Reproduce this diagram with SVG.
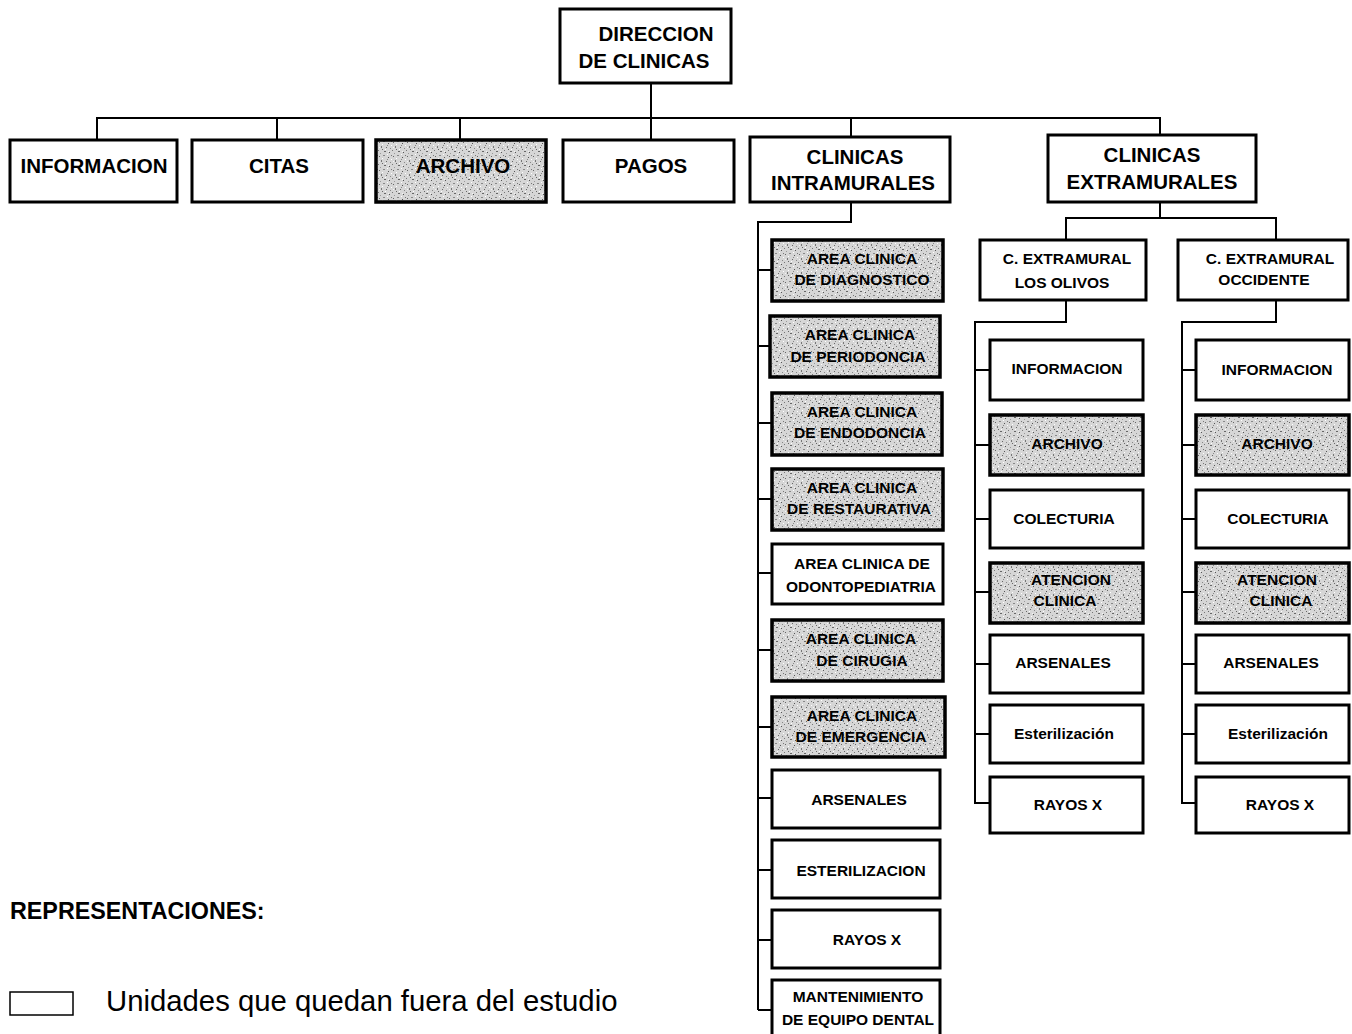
<svg xmlns="http://www.w3.org/2000/svg" width="1352" height="1034" viewBox="0 0 1352 1034">
<style>
.b{fill:#fff;stroke:#000;stroke-width:3}
.s{fill:url(#speck);stroke:#000;stroke-width:3.5}
.t{font-family:"Liberation Sans",Arial,sans-serif;font-weight:bold;text-anchor:middle;fill:#000}
.l1{font-size:20.5px}
.l2{font-size:15.5px}
.c{fill:none;stroke:#000;stroke-width:2}
</style>
<defs>
<pattern id="speck" width="14" height="14" patternUnits="userSpaceOnUse">
<rect width="14" height="14" fill="#d6d6d6"/>
<rect x="1" y="2" width="1" height="1" fill="#666"/>
<rect x="5" y="1" width="2" height="1" fill="#888"/>
<rect x="10" y="3" width="1" height="1" fill="#555"/>
<rect x="3" y="6" width="1" height="2" fill="#777"/>
<rect x="8" y="7" width="1" height="1" fill="#666"/>
<rect x="12" y="8" width="1" height="1" fill="#888"/>
<rect x="0" y="10" width="1" height="1" fill="#777"/>
<rect x="6" y="11" width="2" height="1" fill="#666"/>
<rect x="11" y="12" width="1" height="1" fill="#555"/>
<rect x="2" y="13" width="1" height="1" fill="#999"/>
<rect x="13" y="1" width="1" height="1" fill="#777"/>
<rect x="9" y="5" width="1" height="1" fill="#888"/>
<rect x="4" y="9" width="1" height="1" fill="#666"/>
<rect x="9" y="0" width="1" height="1" fill="#fff"/>
<rect x="4" y="4" width="1" height="1" fill="#fff"/>
<rect x="13" y="5" width="1" height="1" fill="#fff"/>
<rect x="7" y="9" width="1" height="1" fill="#fff"/>
<rect x="1" y="7" width="1" height="1" fill="#f4f4f4"/>
<rect x="10" y="11" width="1" height="1" fill="#f4f4f4"/>
</pattern>
</defs>

<g id="connectors">
<path class="c" d="M651,83 V140 M97,140 V118 H1160 V136 M277,118 V140 M460,118 V140 M851,118 V137"/>
<path class="c" d="M851,202 V222 H758 V1010 M758,270 H772 M758,346 H770 M758,423 H772 M758,499 H772 M758,573 H772 M758,650 H772 M758,727 H772 M758,798 H772 M758,870 H772 M758,940 H772 M758,1010 H772"/>
<path class="c" d="M1160,202 V218 M1066,240 V218 H1276 V240"/>
<path class="c" d="M1066,300 V322 H975 V803 H990 M975,370 H990 M975,445 H990 M975,519 H990 M975,592 H990 M975,664 H990 M975,734 H990"/>
<path class="c" d="M1276,300 V322 H1182 V803 H1196 M1182,370 H1196 M1182,445 H1196 M1182,519 H1196 M1182,592 H1196 M1182,664 H1196 M1182,734 H1196"/>
</g>

<g id="direccion"><rect class="b" x="560" y="9" width="171" height="74"/><text class="t l1" x="656" y="41">DIRECCION</text><text class="t l1" x="644" y="68">DE CLINICAS</text></g>

<g id="informacion"><rect class="b" x="10" y="140" width="167" height="62"/><text class="t l1" x="94" y="173">INFORMACION</text></g>
<g id="citas"><rect class="b" x="192" y="140" width="171" height="62"/><text class="t l1" x="279" y="173">CITAS</text></g>
<g id="archivo"><rect class="s" x="376" y="140" width="170" height="62"/><text class="t l1" x="463" y="173">ARCHIVO</text></g>
<g id="pagos"><rect class="b" x="563" y="140" width="171" height="62"/><text class="t l1" x="651" y="173">PAGOS</text></g>
<g id="intramurales"><rect class="b" x="750" y="137" width="200" height="65"/><text class="t l1" x="855" y="164">CLINICAS</text><text class="t l1" x="853" y="190">INTRAMURALES</text></g>
<g id="extramurales"><rect class="b" x="1048" y="135" width="208" height="67"/><text class="t l1" x="1152" y="162">CLINICAS</text><text class="t l1" x="1152" y="189">EXTRAMURALES</text></g>

<g id="diagnostico"><rect class="s" x="772" y="240" width="171" height="61"/><text class="t l2" x="862" y="264">AREA CLINICA</text><text class="t l2" x="862" y="285">DE DIAGNOSTICO</text></g>
<g id="periodoncia"><rect class="s" x="770" y="316" width="170" height="61"/><text class="t l2" x="860" y="340">AREA CLINICA</text><text class="t l2" x="858" y="362">DE PERIODONCIA</text></g>
<g id="endodoncia"><rect class="s" x="772" y="393" width="170" height="62"/><text class="t l2" x="862" y="417">AREA CLINICA</text><text class="t l2" x="860" y="438">DE ENDODONCIA</text></g>
<g id="restaurativa"><rect class="s" x="772" y="469" width="171" height="61"/><text class="t l2" x="862" y="493">AREA CLINICA</text><text class="t l2" x="859" y="514">DE RESTAURATIVA</text></g>
<g id="odontopediatria"><rect class="b" x="772" y="544" width="171" height="60"/><text class="t l2" x="862" y="569">AREA CLINICA DE</text><text class="t l2" x="861" y="592">ODONTOPEDIATRIA</text></g>
<g id="cirugia"><rect class="s" x="772" y="620" width="171" height="61"/><text class="t l2" x="861" y="644">AREA CLINICA</text><text class="t l2" x="862" y="666">DE CIRUGIA</text></g>
<g id="emergencia"><rect class="s" x="772" y="697" width="173" height="60"/><text class="t l2" x="862" y="721">AREA CLINICA</text><text class="t l2" x="861" y="742">DE EMERGENCIA</text></g>
<g id="arsenales-i"><rect class="b" x="772" y="770" width="168" height="58"/><text class="t l2" x="859" y="805">ARSENALES</text></g>
<g id="esterilizacion-i"><rect class="b" x="772" y="840" width="168" height="58"/><text class="t l2" x="861" y="876">ESTERILIZACION</text></g>
<g id="rayosx-i"><rect class="b" x="772" y="910" width="168" height="58"/><text class="t l2" x="867" y="945">RAYOS X</text></g>
<g id="mantenimiento"><rect class="b" x="772" y="980" width="168" height="62"/><text class="t l2" x="858" y="1002">MANTENIMIENTO</text><text class="t l2" x="858" y="1025">DE EQUIPO DENTAL</text></g>

<g id="olivos"><rect class="b" x="980" y="240" width="166" height="60"/><text class="t l2" x="1067" y="264">C. EXTRAMURAL</text><text class="t l2" x="1062" y="288">LOS OLIVOS</text></g>
<g id="occidente"><rect class="b" x="1178" y="240" width="170" height="60"/><text class="t l2" x="1270" y="264">C. EXTRAMURAL</text><text class="t l2" x="1264" y="285">OCCIDENTE</text></g>

<g id="o-informacion"><rect class="b" x="990" y="340" width="153" height="60"/><text class="t l2" x="1067" y="374">INFORMACION</text></g>
<g id="o-archivo"><rect class="s" x="990" y="415" width="153" height="60"/><text class="t l2" x="1067" y="449">ARCHIVO</text></g>
<g id="o-colecturia"><rect class="b" x="990" y="490" width="153" height="58"/><text class="t l2" x="1064" y="524">COLECTURIA</text></g>
<g id="o-atencion"><rect class="s" x="990" y="563" width="153" height="60"/><text class="t l2" x="1071" y="585">ATENCION</text><text class="t l2" x="1065" y="606">CLINICA</text></g>
<g id="o-arsenales"><rect class="b" x="990" y="635" width="153" height="58"/><text class="t l2" x="1063" y="668">ARSENALES</text></g>
<g id="o-esterilizacion"><rect class="b" x="990" y="705" width="153" height="58"/><text class="t l2" x="1064" y="739">Esterilización</text></g>
<g id="o-rayosx"><rect class="b" x="990" y="777" width="153" height="56"/><text class="t l2" x="1068" y="810">RAYOS X</text></g>

<g id="c-informacion"><rect class="b" x="1196" y="340" width="153" height="60"/><text class="t l2" x="1277" y="375">INFORMACION</text></g>
<g id="c-archivo"><rect class="s" x="1196" y="415" width="153" height="60"/><text class="t l2" x="1277" y="449">ARCHIVO</text></g>
<g id="c-colecturia"><rect class="b" x="1196" y="490" width="153" height="58"/><text class="t l2" x="1278" y="524">COLECTURIA</text></g>
<g id="c-atencion"><rect class="s" x="1196" y="563" width="153" height="60"/><text class="t l2" x="1277" y="585">ATENCION</text><text class="t l2" x="1281" y="606">CLINICA</text></g>
<g id="c-arsenales"><rect class="b" x="1196" y="635" width="153" height="58"/><text class="t l2" x="1271" y="668">ARSENALES</text></g>
<g id="c-esterilizacion"><rect class="b" x="1196" y="705" width="153" height="58"/><text class="t l2" x="1278" y="739">Esterilización</text></g>
<g id="c-rayosx"><rect class="b" x="1196" y="777" width="153" height="56"/><text class="t l2" x="1280" y="810">RAYOS X</text></g>

<g id="legend">
<text x="10" y="919" font-family="'Liberation Sans',Arial,sans-serif" font-weight="bold" font-size="23.3">REPRESENTACIONES:</text>
<rect x="10" y="992" width="63" height="23" fill="#fff" stroke="#000" stroke-width="1.5"/>
<text x="106" y="1011" font-family="'Liberation Sans',Arial,sans-serif" font-size="29.3">Unidades que quedan fuera del estudio</text>
</g>
</svg>
